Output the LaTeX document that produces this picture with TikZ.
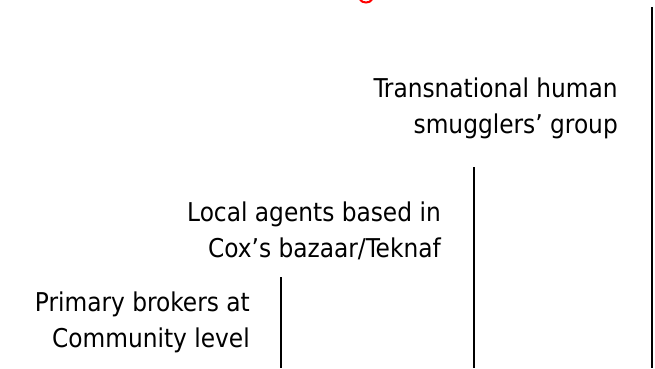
\documentclass[tikz,border=0pt]{standalone}
\usepackage{fontspec}
\setmainfont{DejaVu Sans Condensed}
\begin{document}
\begin{tikzpicture}[x=1pt,y=-1pt,
  lbl/.style={anchor=east,align=right,inner sep=0pt,font=\fontsize{25.9}{36}\selectfont},
  bar/.style={line width=1.9pt,black}]
\useasboundingbox (0,0) rectangle (655,368);
\node[lbl] (trans) at (618,108) {Transnational human\\smugglers’ group};
\node[lbl] (local) at (441,231) {Local agents based in\\Cox’s bazaar/Teknaf};
\node[lbl] (prim) at (250,322.5) {Primary brokers at\\Community level};
\coordinate (r1) at (360,-0.5);
\coordinate (r2) at (372,-0.5);
\draw[red,line width=2pt] (r1) .. controls (362,3.5) and (370,3.5) .. (r2);
\coordinate (a1) at (652,7);
\coordinate (a2) at (652,368);
\coordinate (b1) at (474,167);
\coordinate (b2) at (474,368);
\coordinate (c1) at (281,277);
\coordinate (c2) at (281,368);
\draw[bar] (a1) -- (a2);
\draw[bar] (b1) -- (b2);
\draw[bar] (c1) -- (c2);
\end{tikzpicture}
\end{document}
